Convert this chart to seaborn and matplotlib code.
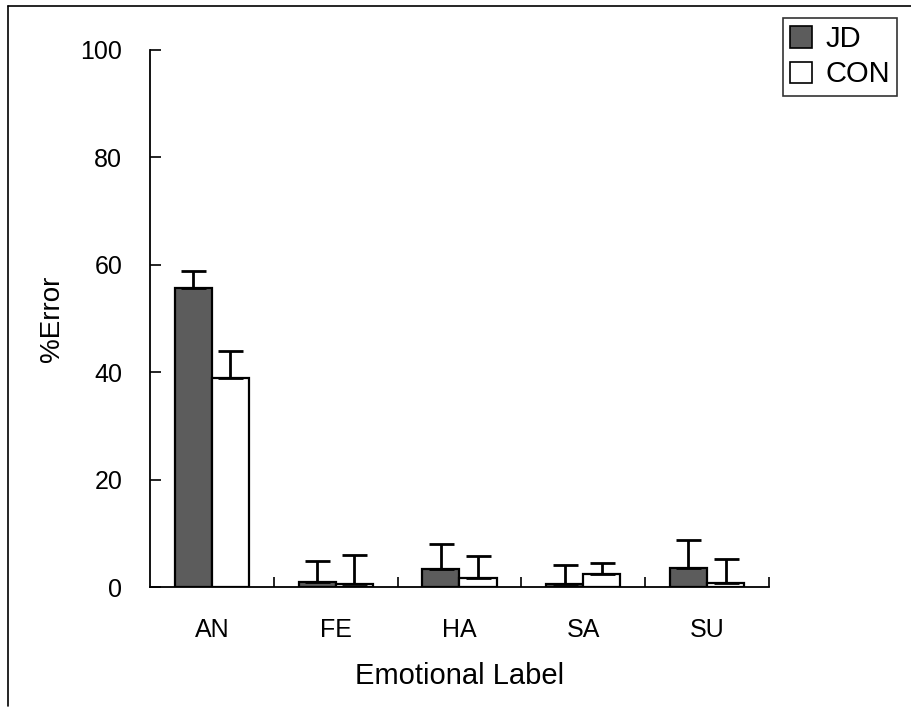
import matplotlib
matplotlib.use("Agg")
import matplotlib.pyplot as plt
import numpy as np
import pandas as pd
import seaborn as sns
from matplotlib.lines import Line2D

labels = ["AN", "FE", "HA", "SA", "SU"]
groups = ["JD", "CON"]
jd_mean = [55.7, 1.0, 3.3, 0.6, 3.5]
jd_err = [3.1, 3.8, 4.8, 3.5, 5.3]
con_mean = [38.9, 0.5, 1.6, 2.4, 0.7]
con_err = [5.1, 5.5, 4.2, 2.0, 4.6]

sns.set_style("ticks")
plt.rcParams['font.family'] = ['Liberation Sans', 'DejaVu Sans']
plt.rcParams['text.color'] = 'black'
plt.rcParams['axes.labelcolor'] = 'black'
plt.rcParams['xtick.color'] = 'black'
plt.rcParams['ytick.color'] = 'black'
plt.rcParams['axes.edgecolor'] = 'black'

df = pd.DataFrame({
    "label": labels * 2,
    "group": ["JD"] * len(labels) + ["CON"] * len(labels),
    "value": jd_mean + con_mean,
})
errs = {"JD": jd_err, "CON": con_err}

fig = plt.figure(figsize=(9.12, 7.13), dpi=100)
ax = fig.add_axes([0.1645, 0.1767, 0.6785, 0.7532])

sns.barplot(data=df, x="label", y="value", hue="group", order=labels,
            hue_order=groups, palette={"JD": "#5c5c5c", "CON": "white"},
            width=0.6, edgecolor="black", linewidth=1.6, errorbar=None, ax=ax)

# one-sided error bars (upward) from the bar tops
for cont, g in zip(ax.containers, groups):
    xs = [b.get_x() + b.get_width() / 2 for b in cont]
    ys = [b.get_height() for b in cont]
    e = np.array(errs[g])
    ax.errorbar(xs, ys, yerr=[np.zeros_like(e), e], fmt="none",
                ecolor="black", elinewidth=2, capsize=9, capthick=2, zorder=3)

ax.set_ylim(0, 100)
ax.set_xlim(-0.5, len(labels) - 0.5)
ax.set_yticks([0, 20, 40, 60, 80, 100])
ax.tick_params(axis="y", direction="in", length=8, width=1.2, labelsize=18, pad=20)
ax.tick_params(axis="x", which="major", length=0, labelsize=18, pad=22)
ax.set_xticks(np.arange(len(labels)) + 0.5, minor=True)
ax.tick_params(axis="x", which="minor", direction="in", length=7, width=1.2)
sns.despine(ax=ax)
ax.spines["left"].set_linewidth(1.3)
ax.spines["bottom"].set_linewidth(1.3)
ax.set_xlabel("Emotional Label", fontsize=21, labelpad=15)
ax.set_ylabel("%Error", fontsize=20, labelpad=11)

handles = [plt.Rectangle((0, 0), 1, 1, facecolor="#5c5c5c", edgecolor="black", lw=1.2),
           plt.Rectangle((0, 0), 1, 1, facecolor="white", edgecolor="black", lw=1.2)]
ax.get_legend().remove()
leg = fig.legend(handles, groups, loc="upper right", bbox_to_anchor=(0.984, 0.975),
                 fontsize=21, frameon=True, fancybox=False, edgecolor="black",
                 handlelength=0.75, handleheight=0.75, handletextpad=0.45,
                 borderpad=0.25, labelspacing=0.25, borderaxespad=0)
leg.get_frame().set_linewidth(1.2)

# page frame lines (top and left)
fig.add_artist(Line2D([0.009, 1.0], [0.992, 0.992], color="black", lw=1.2, transform=fig.transFigure))
fig.add_artist(Line2D([0.009, 0.009], [0.01, 0.992], color="black", lw=1.2, transform=fig.transFigure))

fig.savefig("out.png", dpi=100)
